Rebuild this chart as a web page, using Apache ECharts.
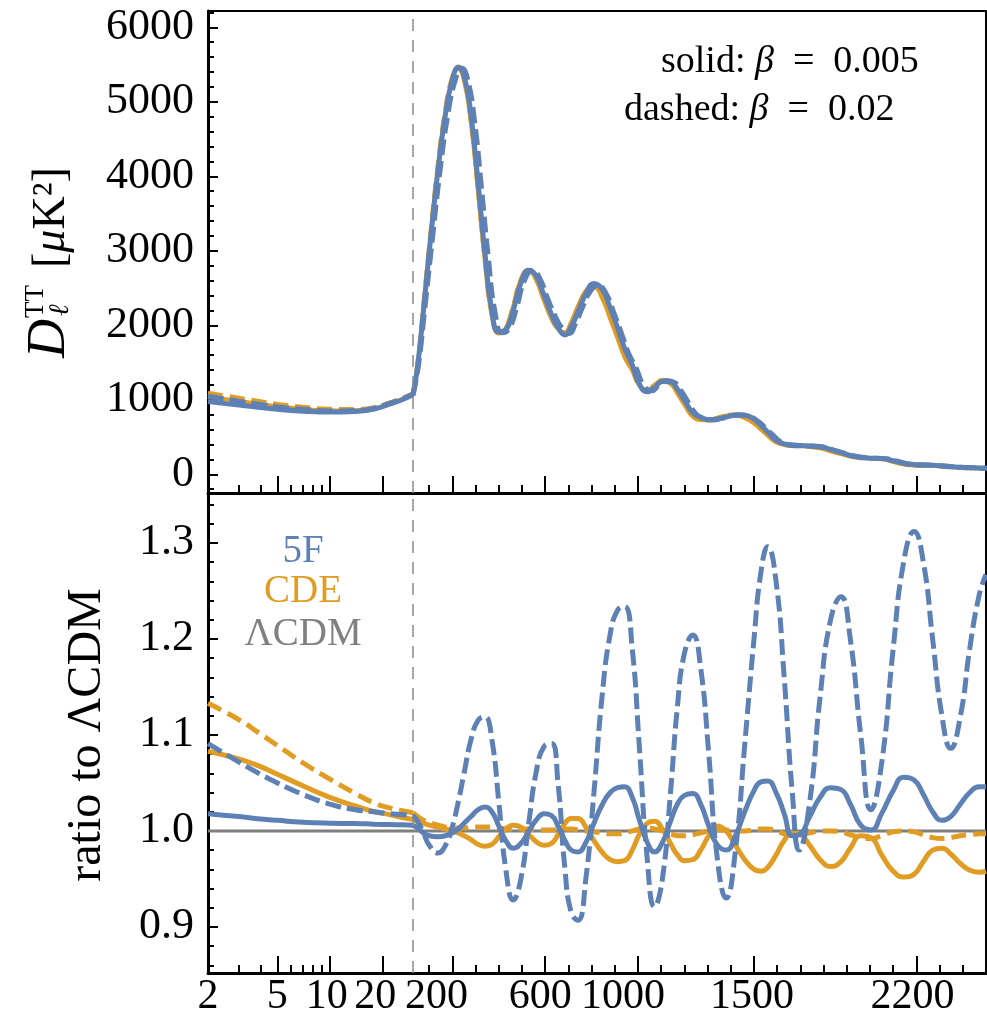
<!DOCTYPE html>
<html>
<head>
<meta charset="utf-8">
<script src="https://cdn.jsdelivr.net/npm/echarts@6/dist/echarts.min.js"></script>
<style>
html, body { margin: 0; padding: 0; background: #fff; }
#main { width: 987px; height: 1029px; }
</style>
</head>
<body>
<div id="main"></div>
<script>
// multipoles: log part (2-30) and linear part (30-2500)
var ellLow = [2, 3, 4, 5, 7, 10, 14, 18, 22, 26, 30];
var ellHigh = [30, 50, 75, 100, 137, 170, 200, 225, 250, 280, 310, 340, 370, 400, 430, 462, 495, 530, 560, 595,
    627, 655, 685, 712, 741, 775, 810, 845, 880, 912, 942, 975, 1005, 1040, 1071, 1105, 1140, 1170, 1200, 1236,
    1270, 1305, 1340, 1380, 1420, 1460, 1500, 1530, 1559, 1595, 1630, 1665, 1695, 1740, 1785, 1830, 1875, 1915, 1960, 2004,
    2050, 2100, 2145, 2190, 2230, 2270, 2310, 2348, 2390, 2430, 2470, 2500];
// where the dashed 5F spectrum (top panel) reaches the same heights, slightly to the right
var ellHighDashedTop = [30, 53, 80, 108, 147, 182, 214, 240, 265, 295, 325, 355, 385, 415, 445, 477, 510, 545, 575, 610,
    645, 673, 703, 730, 759, 793, 828, 863, 898, 930, 960, 993, 1023, 1058, 1089, 1123, 1158, 1188, 1218, 1254,
    1288, 1323, 1358, 1398, 1438, 1478, 1518, 1548, 1577, 1613, 1648, 1683, 1713, 1758, 1803, 1848, 1893, 1933, 1978, 2022,
    2068, 2118, 2163, 2208, 2248, 2288, 2328, 2366, 2408, 2448, 2488, 2518];

// LCDM D_l^TT [muK^2]
var lcdmLow = [960, 915, 885, 862, 840, 828, 838, 870, 935, 995, 1060];
var lcdmHigh = [1060, 1450, 2200, 3000, 4085, 4860, 5310, 5450, 5310, 4750, 3850, 2900, 2150, 1900, 1960, 2240, 2600, 2740, 2640, 2360,
    2110, 1960, 1890, 2020, 2230, 2450, 2540, 2420, 2150, 1880, 1620, 1420, 1200, 1120, 1190, 1260, 1230, 1110, 960, 796,
    745, 730, 750, 785, 798, 778, 710, 625, 540, 440, 400, 390, 385, 375, 360, 320, 280, 245, 225, 215,
    210, 175, 140, 125, 122, 120, 110, 100, 92, 87, 82, 78];

// ratios to LCDM
var fiveFSolidLow = [1.018, 1.015, 1.0125, 1.011, 1.009, 1.008, 1.0077, 1.007, 1.0066, 1.0063, 1.006];
var fiveFSolidHigh = [1.006, 1.003, 0.998, 0.995, 0.994, 0.995, 0.998, 1.002, 1.008, 1.015, 1.022, 1.025, 1.020, 1.005, 0.990, 0.982, 0.987, 1.000, 1.011, 1.018,
    1.016, 1.005, 0.990, 0.980, 0.978, 0.988, 1.008, 1.027, 1.040, 1.045, 1.046, 1.035, 1.012, 0.988, 0.978, 0.988, 1.010, 1.028, 1.037, 1.039,
    1.028, 1.005, 0.986, 0.980, 0.995, 1.020, 1.042, 1.051, 1.052, 1.040, 1.018, 0.995, 0.996, 1.015, 1.035, 1.045, 1.043, 1.028, 1.006, 1.001,
    1.018, 1.042, 1.056, 1.053, 1.038, 1.020, 1.011, 1.015, 1.028, 1.040, 1.046, 1.046];
var fiveFDashedLow = [1.091, 1.072, 1.059, 1.050, 1.038, 1.028, 1.022, 1.020, 1.018, 1.017, 1.016];
var fiveFDashedHigh = [1.016, 1.010, 0.998, 0.985, 0.977, 0.985, 1.005, 1.030, 1.060, 1.095, 1.115, 1.119, 1.095, 1.030, 0.960, 0.928, 0.950, 1.010, 1.060, 1.088,
    1.091, 1.050, 0.960, 0.915, 0.907, 0.950, 1.040, 1.140, 1.205, 1.230, 1.234, 1.190, 1.090, 0.970, 0.921, 0.950, 1.040, 1.130, 1.185, 1.204,
    1.170, 1.080, 0.975, 0.930, 0.980, 1.090, 1.200, 1.270, 1.296, 1.260, 1.160, 1.040, 0.980, 1.030, 1.140, 1.220, 1.244, 1.200, 1.100, 1.022,
    1.070, 1.190, 1.280, 1.312, 1.280, 1.200, 1.120, 1.086, 1.120, 1.190, 1.245, 1.267];
var cdeSolidLow = [1.083, 1.075, 1.067, 1.059, 1.047, 1.035, 1.026, 1.020, 1.017, 1.014, 1.012];
var cdeSolidHigh = [1.012, 1.010, 1.008, 1.006, 1.004, 1.002, 1.000, 0.998, 0.995, 0.991, 0.986, 0.984, 0.986, 0.994, 1.002, 1.006, 1.004, 0.996, 0.989, 0.985,
    0.987, 0.996, 1.008, 1.013, 1.013, 1.004, 0.990, 0.978, 0.970, 0.968, 0.969, 0.980, 0.996, 1.008, 1.010, 1.002, 0.987, 0.975, 0.969, 0.970,
    0.980, 0.995, 1.005, 1.000, 0.985, 0.970, 0.960, 0.958, 0.962, 0.975, 0.990, 0.998, 0.997, 0.985, 0.970, 0.963, 0.968, 0.982, 0.995, 0.993,
    0.975, 0.958, 0.952, 0.955, 0.968, 0.980, 0.982, 0.976, 0.966, 0.959, 0.957, 0.958];
var cdeDashedLow = [1.133, 1.116, 1.101, 1.089, 1.071, 1.054, 1.039, 1.029, 1.024, 1.021, 1.019];
var cdeDashedHigh = [1.019, 1.015, 1.011, 1.009, 1.006, 1.004, 1.003, 1.003, 1.003, 1.004, 1.004, 1.004, 1.004, 1.003, 1.002, 1.002, 1.002, 1.002, 1.001, 1.001,
    1.001, 1.001, 1.002, 1.002, 1.001, 1.000, 0.999, 0.998, 0.997, 0.997, 0.998, 1.000, 1.002, 1.003, 1.002, 1.000, 0.997, 0.995, 0.995, 0.996,
    0.998, 1.000, 1.001, 1.001, 1.000, 1.000, 1.001, 1.002, 1.002, 1.000, 0.997, 0.996, 0.996, 0.998, 1.000, 1.000, 0.999, 0.996, 0.993, 0.992,
    0.995, 0.999, 1.000, 0.999, 0.996, 0.993, 0.992, 0.993, 0.995, 0.996, 0.997, 0.997];
var lcdmRatioEll = [2, 30, 2500];
var lcdmRatio = [1, 1, 1];

// ticks
var logLabels = [2, 5, 10, 20];
var logMajor = [5, 10, 20];
var logMinor = [3, 4, 6, 7, 8, 9];
var linMajor = [200, 600, 1000, 1500, 2200];
var linMinor = [100, 300, 400, 500, 700, 800, 900, 1100, 1200, 1300, 1400, 1600, 1700, 1800, 1900, 2000, 2100, 2300, 2400];
var dMajor = [0, 1000, 2000, 3000, 4000, 5000, 6000];
var dMinor = [-200, 200, 400, 600, 800, 1200, 1400, 1600, 1800, 2200, 2400, 2600, 2800, 3200, 3400, 3600, 3800,
    4200, 4400, 4600, 4800, 5200, 5400, 5600, 5800, 6200];
var rMajor = [0.9, 1.0, 1.1, 1.2, 1.3];
var rMinor = [0.86, 0.88, 0.92, 0.94, 0.96, 0.98, 1.02, 1.04, 1.06, 1.08, 1.12, 1.14, 1.16, 1.18,
    1.22, 1.24, 1.26, 1.28, 1.32, 1.34];

var blue = '#5E81B5', orange = '#E19C24', grey = '#808080';
var serif = '"Liberation Serif", "DejaVu Serif", serif';
// the x labels sit a little left of their ticks in the original
var labelNudge = { 2: 0, 5: 0, 10: 3, 20: 7, 200: 16, 600: 5, 1000: 15, 1500: 2, 2200: 4 };

var myChart = echarts.init(document.getElementById('main'));

function pairs(ell, vals) {
    return ell.map(function (l, i) { return [l, vals[i]]; });
}
function times(ell, base, ratio) {
    return ell.map(function (l, i) { return [l, base[i] * ratio[i]]; });
}

var xRich = {};
Object.keys(labelNudge).forEach(function (k) {
    xRich['n' + k] = { fontFamily: serif, fontSize: 42, color: '#000', padding: [0, 2 * labelNudge[k], 0, 0] };
});

function xAx(grid, kind, role, labels) {
    var a = {
        gridIndex: grid,
        type: kind === 'log' ? 'log' : 'value',
        min: kind === 'log' ? 2 : 30,
        max: kind === 'log' ? 30 : 2500,
        position: role === 'top' ? 'top' : 'bottom',
        splitLine: { show: false },
        axisLine: { show: role !== 'minor', onZero: false, lineStyle: { color: '#000', width: role === 'top' ? 2 : 3 } },
        axisTick: { show: role !== 'top', inside: true, length: role === 'major' ? 17 : 8,
            lineStyle: { color: '#000', width: 2 } },
        axisLabel: { show: false }
    };
    if (kind === 'log') a.logBase = 10;
    if (role === 'major') a.axisTick.customValues = kind === 'log' ? logMajor : linMajor;
    if (role === 'minor') a.axisTick.customValues = kind === 'log' ? logMinor : linMinor;
    if (labels) {
        a.axisLabel = { show: true, customValues: labels, margin: 3, color: '#000',
            fontFamily: serif, fontSize: 42, rich: xRich,
            formatter: function (v) { var r = Math.round(v); return '{n' + r + '|' + r + '}'; } };
    }
    return a;
}

function yAx(grid, range, role, major, minor, fmt) {
    var a = {
        gridIndex: grid, type: 'value', min: range[0], max: range[1],
        position: role === 'right' ? 'right' : 'left',
        splitLine: { show: false },
        axisLine: { show: role !== 'minor', onZero: false, lineStyle: { color: '#000', width: role === 'right' ? 2 : 3 } },
        axisTick: { show: role !== 'right', inside: true, length: role === 'major' ? 10 : 6,
            lineStyle: { color: '#000', width: 2 }, customValues: role === 'major' ? major : minor },
        axisLabel: { show: false }
    };
    if (role === 'major') {
        a.axisLabel = { show: true, customValues: major, margin: 14, color: '#000',
            fontFamily: serif, fontSize: 44, formatter: fmt };
    }
    return a;
}

var dRange = [-251, 6219];
var rRange = [0.852, 1.352];

var vline = {
    silent: true, symbol: 'none', label: { show: false },
    lineStyle: { color: '#8a8a8a', width: 1.5, type: [12, 9] },
    data: [{ xAxis: 30 }]
};

function line(name, data, xi, yi, color, width, dash, extra) {
    var s = {
        name: name, type: 'line', data: data, xAxisIndex: xi, yAxisIndex: yi,
        showSymbol: false, smooth: 0.5, clip: true,
        lineStyle: { color: color, width: width, type: dash || 'solid' }
    };
    if (extra) s.markLine = extra;
    return s;
}

var dashBlue = [16, 6], dashOrange = [15, 7];

var series = [
    // top panel, l < 30
    line('CDE β=0.02', times(ellLow, lcdmLow, cdeDashedLow), 0, 0, orange, 5, dashOrange),
    line('CDE β=0.005', times(ellLow, lcdmLow, cdeSolidLow), 0, 0, orange, 4),
    line('5F β=0.02', times(ellLow, lcdmLow, fiveFDashedLow), 0, 0, blue, 5, dashBlue),
    line('5F β=0.005', times(ellLow, lcdmLow, fiveFSolidLow), 0, 0, blue, 5),
    // top panel, l > 30
    line('CDE β=0.02', times(ellHigh, lcdmHigh, cdeDashedHigh), 3, 2, orange, 5, dashOrange, vline),
    line('CDE β=0.005', times(ellHigh, lcdmHigh, cdeSolidHigh), 3, 2, orange, 4),
    line('5F β=0.02', pairs(ellHighDashedTop, lcdmHigh), 3, 2, blue, 5, dashBlue),
    line('5F β=0.005', times(ellHigh, lcdmHigh, fiveFSolidHigh), 3, 2, blue, 5),
    // bottom panel, l < 30
    line('ΛCDM', pairs(lcdmRatioEll.slice(0, 2), lcdmRatio.slice(0, 2)), 6, 3, grey, 3),
    line('CDE β=0.02', pairs(ellLow, cdeDashedLow), 6, 3, orange, 5, dashOrange),
    line('CDE β=0.005', pairs(ellLow, cdeSolidLow), 6, 3, orange, 5),
    line('5F β=0.02', pairs(ellLow, fiveFDashedLow), 6, 3, blue, 5, dashBlue),
    line('5F β=0.005', pairs(ellLow, fiveFSolidLow), 6, 3, blue, 5),
    // bottom panel, l > 30
    line('ΛCDM', pairs(lcdmRatioEll.slice(1), lcdmRatio.slice(1)), 8, 5, grey, 3, null, vline),
    line('CDE β=0.02', pairs(ellHigh, cdeDashedHigh), 8, 5, orange, 5, dashOrange),
    line('CDE β=0.005', pairs(ellHigh, cdeSolidHigh), 8, 5, orange, 5),
    line('5F β=0.02', pairs(ellHigh, fiveFDashedHigh), 8, 5, blue, 5, dashBlue),
    line('5F β=0.005', pairs(ellHigh, fiveFSolidHigh), 8, 5, blue, 5)
];

var richAnn = { r: { fontSize: 38, fontFamily: serif }, i: { fontSize: 38, fontFamily: serif, fontStyle: 'italic' } };

var option = {
    animation: false,
    backgroundColor: '#fff',
    grid: [
        { left: 208, top: 11, width: 205, height: 482 },
        { left: 413, top: 11, width: 573, height: 482 },
        { left: 208, top: 493, width: 205, height: 480 },
        { left: 413, top: 493, width: 573, height: 480 }
    ],
    xAxis: [
        xAx(0, 'log', 'major'), xAx(0, 'log', 'minor'), xAx(0, 'log', 'top'),
        xAx(1, 'lin', 'major'), xAx(1, 'lin', 'minor'), xAx(1, 'lin', 'top'),
        xAx(2, 'log', 'major', logLabels), xAx(2, 'log', 'minor'),
        xAx(3, 'lin', 'major', linMajor), xAx(3, 'lin', 'minor')
    ],
    yAxis: [
        yAx(0, dRange, 'major', dMajor, dMinor, function (v) { return String(v); }),
        yAx(0, dRange, 'minor', dMajor, dMinor),
        yAx(1, dRange, 'right'),
        yAx(2, rRange, 'major', rMajor, rMinor, function (v) { return v.toFixed(1); }),
        yAx(2, rRange, 'minor', rMajor, rMinor),
        yAx(3, rRange, 'right')
    ],
    graphic: [
        { type: 'text', x: 661, y: 62, style: { text: '{r|solid: }{i|β}{r|\u2002=\u20020.005}', fill: '#000',
            verticalAlign: 'middle', rich: richAnn } },
        { type: 'text', x: 624, y: 110, style: { text: '{r|dashed: }{i|β}{r|\u2002=\u20020.02}', fill: '#000',
            verticalAlign: 'middle', rich: richAnn } },
        { type: 'text', x: 303, y: 552, style: { text: '5F', fill: blue, font: '39px ' + serif, align: 'center', verticalAlign: 'middle' } },
        { type: 'text', x: 303, y: 592, style: { text: 'CDE', fill: orange, font: '39px ' + serif, align: 'center', verticalAlign: 'middle' } },
        { type: 'text', x: 303, y: 635, style: { text: 'ΛCDM', fill: grey, font: '39px ' + serif, align: 'center', verticalAlign: 'middle' } },
        { type: 'group', x: 52, y: 262, rotation: Math.PI / 2, children: [
            { type: 'text', x: -96, y: -2, style: { text: 'D', fill: '#000', font: 'italic 54px ' + serif, verticalAlign: 'middle' } },
            { type: 'text', x: -56, y: -16, style: { text: 'TT', fill: '#000', font: '27px ' + serif, verticalAlign: 'middle' } },
            { type: 'text', x: -54, y: 9, style: { text: 'ℓ', fill: '#000', font: 'italic 28px ' + serif, verticalAlign: 'middle' } },
            { type: 'text', x: -6, y: 0, style: { text: '{r|[}{i|μ}{r|K²]}', fill: '#000', verticalAlign: 'middle',
                rich: { r: { fontSize: 46, fontFamily: serif }, i: { fontSize: 46, fontFamily: serif, fontStyle: 'italic' } } } }
        ] },
        { type: 'text', x: 87, y: 735, rotation: Math.PI / 2, style: { text: 'ratio to ΛCDM', fill: '#000',
            font: '48px ' + serif, align: 'center', verticalAlign: 'middle' } }
    ],
    series: series
};

myChart.setOption(option);
</script>
</body>
</html>
